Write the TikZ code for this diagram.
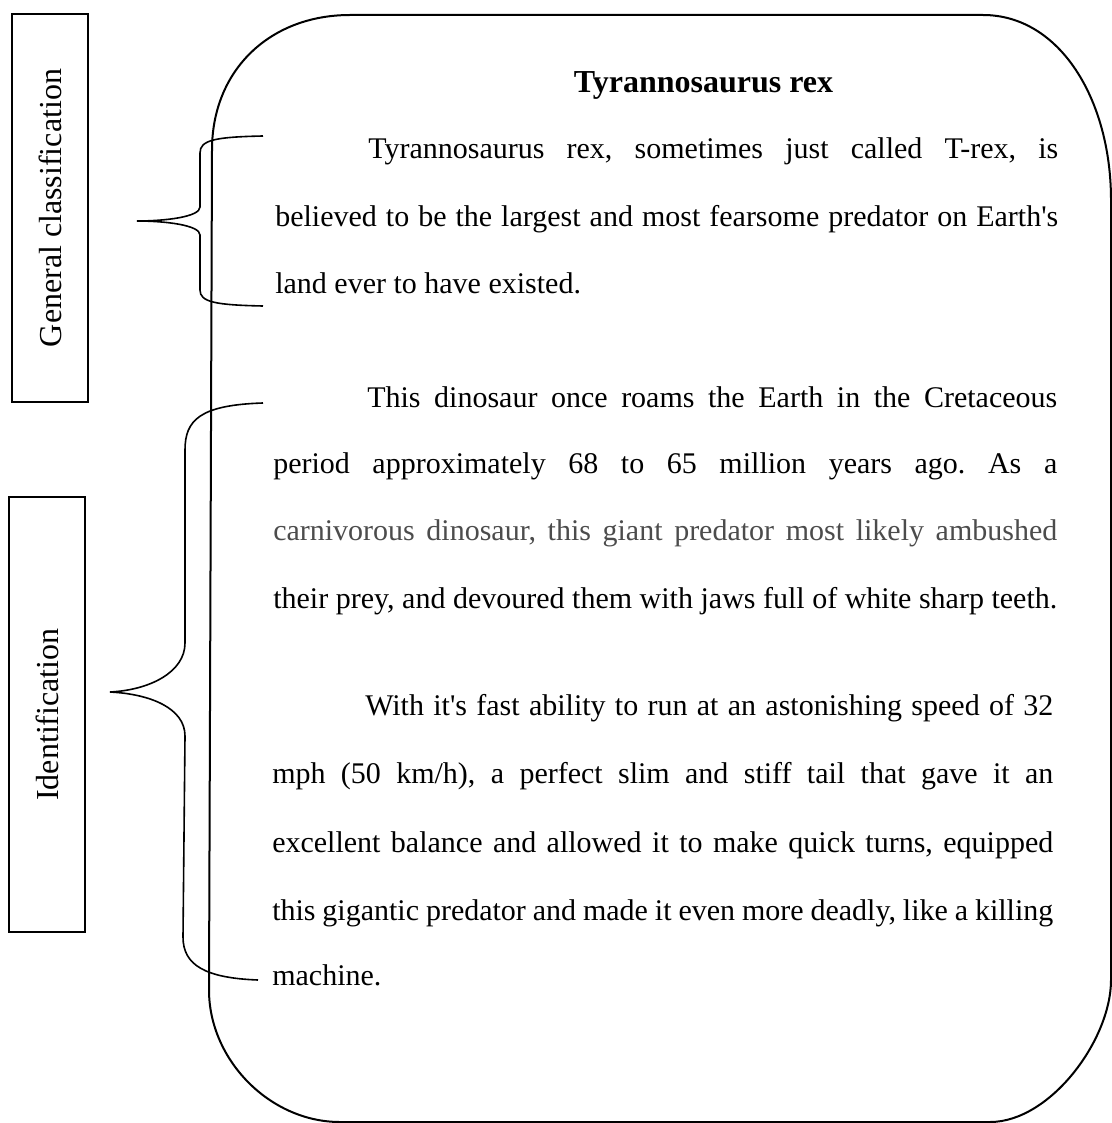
\documentclass[tikz,border=0pt]{standalone}
\usepackage{fontspec}
\setmainfont{Liberation Serif}
\newfontfamily\txtfont{Liberation Serif}
\begin{document}
\frenchspacing
\begin{tikzpicture}[x=0.75pt,y=-0.75pt,
  body/.style={anchor=base west, inner sep=0pt, font=\txtfont\frenchspacing\fontsize{22.5}{26}\selectfont},
  sidebox/.style={draw, line width=1.1pt, rotate=90, inner sep=0pt, minimum height=57pt, font=\txtfont\fontsize{24}{28}\selectfont},
  frameline/.style={line width=1.5pt},
  braceline/.style={line width=1.2pt}]
\useasboundingbox (0,0) rectangle (1112,1123);

% side boxes
\node[sidebox, minimum width=291pt] (gc) at (50,208) {General classification};
\node[sidebox, minimum width=326.25pt] (idf) at (47,714.5) {Identification};

% main rounded frame
\draw[frameline] (212,150) .. controls (212,70) and (270,15) .. (350,15)
  -- (983,15) .. controls (1060,15) and (1111,100) .. (1111,200)
  -- (1111,980) .. controls (1111,1040) and (1050,1122) .. (990,1122)
  -- (340,1122) .. controls (270,1122) and (209,1060) .. (209,990) -- cycle;

% brace 1
\draw[braceline] (263,136) .. controls (215,137) and (200,140) .. (200,153)
  -- (200,207) .. controls (200,217) and (165,221) .. (137,221)
  .. controls (165,221) and (200,225) .. (200,235)
  -- (200,290) .. controls (200,302) and (215,305) .. (263,306);

% brace 2
\draw[braceline] (263,403) .. controls (200,405) and (185,420) .. (185,450)
  -- (185,643) .. controls (185,672) and (150,690) .. (110,692)
  .. controls (150,694) and (185,708) .. (185,736)
  -- (183,937) .. controls (183,965) and (205,978) .. (258,980);

% title
\node[anchor=base, inner sep=0pt, font=\txtfont\bfseries\fontsize{24}{28}\selectfont] (title) at (703.5,93) {Tyrannosaurus rex};

% paragraph 1
\node[body] (t1) at (368,159) {\makebox[517.5pt][s]{Tyrannosaurus rex, sometimes just called T-rex, is}};
\node[body] (t2) at (275,227) {\makebox[587.25pt][s]{believed to be the largest and most fearsome predator on Earth's}};
\node[body] (t3) at (275,293) {land ever to have existed.};

% paragraph 2
\node[body] (t4) at (367,407) {\makebox[517.5pt][s]{This dinosaur once roams the Earth in the Cretaceous}};
\node[body] (t5) at (273,473) {\makebox[588pt][s]{period approximately 68 to 65 million years ago. As a}};
\node[body, text=black!70] (t6) at (273,540) {\makebox[588pt][s]{carnivorous dinosaur, this giant predator most likely ambushed}};
\node[body] (t7) at (273,608) {\makebox[588pt][s]{their prey, and devoured them with jaws full of white sharp teeth.}};

% paragraph 3
\node[body] (t8) at (365,715) {\makebox[516pt][s]{With it's fast ability to run at an astonishing speed of 32}};
\node[body] (t9) at (272,783) {\makebox[585.75pt][s]{mph (50 km/h), a perfect slim and stiff tail that gave it an}};
\node[body] (t10) at (272,852) {\makebox[585.75pt][s]{excellent balance and allowed it to make quick turns, equipped}};
\node[body] (t11) at (272,920) {\makebox[585.75pt][s]{this gigantic predator and made it even more deadly, like a killing}};
\node[body] (t12) at (272,985) {machine.};
\end{tikzpicture}
\end{document}
